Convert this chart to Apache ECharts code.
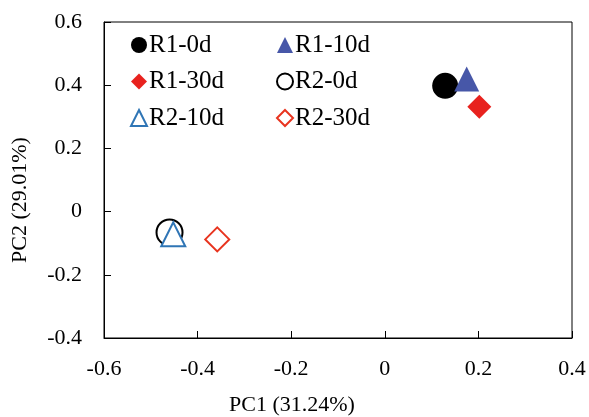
<!DOCTYPE html>
<html>
<head>
<meta charset="utf-8">
<script src="https://cdn.jsdelivr.net/npm/echarts@6/dist/echarts.min.js"></script>
<style>html,body{margin:0;padding:0;background:#fff}#c{width:589px;height:417px}</style>
</head>
<body>
<div id="c"></div>
<script>
var seriesNames = ['R1-0d', 'R1-10d', 'R1-30d', 'R2-0d', 'R2-10d', 'R2-30d'];
var pc1 = [0.129, 0.175, 0.202, -0.460, -0.452, -0.358];
var pc2 = [0.398, 0.420, 0.332, -0.066, -0.072, -0.088];
var xTicks = [-0.6, -0.4, -0.2, 0, 0.2, 0.4];
var yTicks = [-0.4, -0.2, 0, 0.2, 0.4, 0.6];
var xTitle = 'PC1 (31.24%)';
var yTitle = 'PC2 (29.01%)';

var FONT = "'Liberation Serif', 'Times New Roman', serif";
var styles = [
  {symbol: 'circle', size: 26, item: {color: '#000000', opacity: 1}},
  {symbol: 'triangle', size: 25, item: {color: '#4757A8', opacity: 1}},
  {symbol: 'diamond', size: 24, item: {color: '#E8221E', opacity: 1}},
  {symbol: 'circle', size: 26, item: {color: '#ffffff', borderColor: '#000000', borderWidth: 2, opacity: 1}},
  {symbol: 'triangle', size: 24, item: {color: '#ffffff', borderColor: '#2F75B5', borderWidth: 2, opacity: 1}},
  {symbol: 'diamond', size: 24, item: {color: '#ffffff', borderColor: '#E8341F', borderWidth: 2, opacity: 1}}
];

var series = seriesNames.map(function (n, i) {
  return {
    name: n,
    type: 'scatter',
    symbol: styles[i].symbol,
    symbolSize: styles[i].size,
    itemStyle: styles[i].item,
    emphasis: {disabled: true},
    data: [[pc1[i], pc2[i]]],
    z: 2 + i
  };
});

var legendCommon = {
  orient: 'vertical',
  top: 32,
  padding: 0,
  itemWidth: 16,
  itemHeight: 16,
  itemGap: 10.5,
  textStyle: {fontFamily: FONT, fontSize: 25, color: '#000', lineHeight: 26, padding: [0, 0, 0, -3]},
  selectedMode: false
};

var chart = echarts.init(document.getElementById('c'));
chart.setOption({
  animation: false,
  backgroundColor: '#fff',
  grid: {left: 104, top: 22, right: 17, bottom: 79, show: true, borderColor: '#000', borderWidth: 1, backgroundColor: 'transparent'},
  legend: [
    Object.assign({}, legendCommon, {left: 130, data: [seriesNames[0], seriesNames[2], seriesNames[4]]}),
    Object.assign({}, legendCommon, {left: 276, data: [seriesNames[1], seriesNames[3], seriesNames[5]]})
  ],
  xAxis: {
    type: 'value', min: xTicks[0], max: xTicks[xTicks.length - 1], interval: 0.2,
    axisLine: {onZero: false, lineStyle: {color: '#000', width: 1}},
    axisTick: {inside: true, length: 7, lineStyle: {color: '#000'}},
    splitLine: {show: false},
    axisLabel: {fontFamily: FONT, fontSize: 22, color: '#000', margin: 20,
      formatter: function (v) { return String(Math.round(v * 10) / 10); }}
  },
  yAxis: {
    type: 'value', min: yTicks[0], max: yTicks[yTicks.length - 1], interval: 0.2,
    axisLine: {onZero: false, show: true, lineStyle: {color: '#000', width: 1}},
    axisTick: {show: true, inside: true, length: 7, lineStyle: {color: '#000'}},
    splitLine: {show: false},
    axisLabel: {fontFamily: FONT, fontSize: 22, color: '#000', margin: 22,
      formatter: function (v) { return String(Math.round(v * 10) / 10); }}
  },
  graphic: [
    {type: 'text', x: 292, y: 405, style: {text: xTitle, font: '22px ' + FONT, fill: '#000', textAlign: 'center', textVerticalAlign: 'middle'}},
    {type: 'text', x: 20, y: 200, rotation: Math.PI / 2, style: {text: yTitle, font: '22px ' + FONT, fill: '#000', textAlign: 'center', textVerticalAlign: 'middle'}}
  ],
  series: series
});
</script>
</body>
</html>
